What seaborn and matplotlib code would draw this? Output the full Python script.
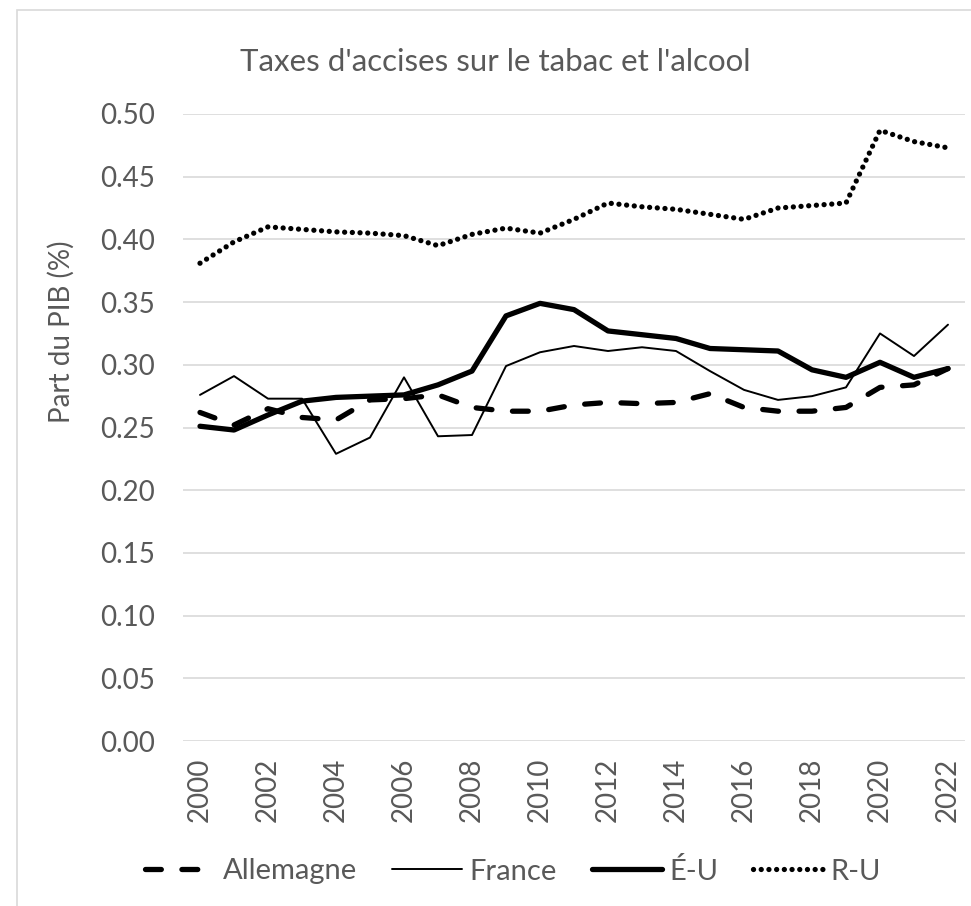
import matplotlib
matplotlib.use('Agg')
import matplotlib.pyplot as plt
import matplotlib.patches as patches
import seaborn as sns

years = list(range(2000, 2023))
allemagne = [0.262, 0.252, 0.265, 0.258, 0.256, 0.272, 0.273, 0.276, 0.266, 0.263, 0.263, 0.268,
             0.270, 0.269, 0.270, 0.277, 0.266, 0.263, 0.263, 0.266, 0.282, 0.284, 0.297]
france = [0.276, 0.291, 0.273, 0.273, 0.229, 0.242, 0.290, 0.243, 0.244, 0.299, 0.310, 0.315,
          0.311, 0.314, 0.311, 0.295, 0.280, 0.272, 0.275, 0.282, 0.325, 0.307, 0.332]
eu = [0.251, 0.248, 0.260, 0.271, 0.274, 0.275, 0.276, 0.284, 0.295, 0.339, 0.349, 0.344,
      0.327, 0.324, 0.321, 0.313, 0.312, 0.311, 0.296, 0.290, 0.302, 0.290, 0.297]
ru = [0.381, 0.398, 0.410, 0.408, 0.406, 0.405, 0.403, 0.395, 0.404, 0.409, 0.405, 0.416,
      0.429, 0.426, 0.424, 0.420, 0.416, 0.425, 0.427, 0.429, 0.487, 0.478, 0.473]
yticks = [0.0, 0.05, 0.10, 0.15, 0.20, 0.25, 0.30, 0.35, 0.40, 0.45, 0.50]

sns.set_style('white')
plt.rcParams['font.family'] = ['Lato', 'DejaVu Sans']
grey = '#595959'

fig = plt.figure(figsize=(9.71, 9.06), dpi=100)
ax = fig.add_axes([183 / 971, 1 - 741 / 906, 782 / 971, 627 / 906])

# chart frame
fig.patches.append(patches.Rectangle((16.5 / 971, -0.1), 1.2, 1.1 - 10.5 / 906,
                                     transform=fig.transFigure, fill=False,
                                     edgecolor='#d9d9d9', lw=1.2))

sns.lineplot(x=years, y=allemagne, ax=ax, color='black', lw=3.8, label='Allemagne')
sns.lineplot(x=years, y=france, ax=ax, color='black', lw=1.4, label='France')
sns.lineplot(x=years, y=eu, ax=ax, color='black', lw=3.8, label='É-U')
sns.lineplot(x=years, y=ru, ax=ax, color='black', lw=3.8, label='R-U')
ax.lines[0].set_linestyle((0, (3.0, 3.9)))
ax.lines[0].set_dash_capstyle('round')
ax.lines[3].set_linestyle((0, (0.01, 1.45)))
ax.lines[3].set_dash_capstyle('round')

ax.set_xlim(1999.5, 2022.5)
ax.set_ylim(0, 0.5)
ax.set_yticks(yticks)
ax.set_yticklabels([f'{v:.2f}' for v in yticks], fontsize=20, color=grey)
ax.set_xticks(years[::2])
ax.set_xticklabels([str(y) for y in years[::2]], rotation=90, fontsize=20, color=grey)
ax.tick_params(axis='y', length=0, pad=20)
ax.tick_params(axis='x', length=0, pad=12)
ax.grid(axis='y', color='#d9d9d9', lw=1.2)
ax.set_axisbelow(True)
for s in ax.spines.values():
    s.set_visible(False)

ax.set_xlabel('')
ax.set_ylabel('Part du PIB (%)', fontsize=20, color=grey)
ax.yaxis.set_label_coords((75 - 183) / 782, (741 - 332) / 627)
fig.text(495 / 971, 1 - 62 / 906, "Taxes d'accises sur le tabac et l'alcool",
         ha='center', va='center', fontsize=22.5, color=grey)

ax.legend(loc='center', bbox_to_anchor=(513 / 971, 1 - 871 / 906),
          bbox_transform=fig.transFigure, ncol=4, frameon=False, fontsize=21,
          labelcolor=grey, handlelength=2.4, handletextpad=0.25, columnspacing=1.2)

fig.savefig('out.png', dpi=100)
